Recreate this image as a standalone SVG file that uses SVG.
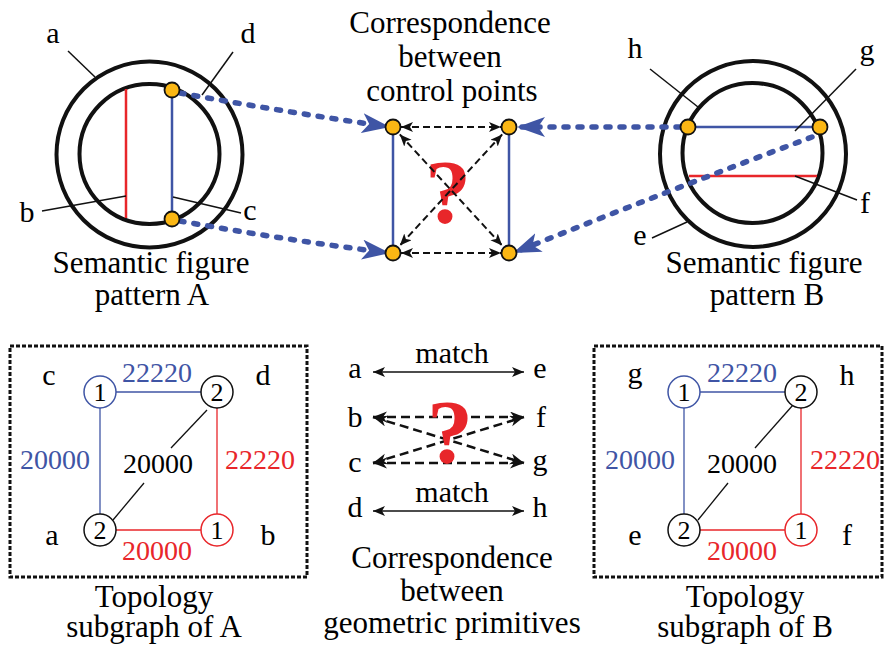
<svg xmlns="http://www.w3.org/2000/svg" width="886" height="651" viewBox="0 0 886 651" font-family="Liberation Serif">
<defs>
<marker id="bArr" markerUnits="userSpaceOnUse" markerWidth="32" markerHeight="22" refX="28" refY="10" orient="auto">
<path d="M0,0 L28,10 L0,20 L7,10 z" fill="#3f55a5"/>
</marker>
<marker id="kArr" markerUnits="userSpaceOnUse" markerWidth="14" markerHeight="12" refX="12" refY="5" orient="auto-start-reverse">
<path d="M0,0 L12,5 L0,10 L3,5 z" fill="#111"/>
</marker>
<marker id="kArr2" markerUnits="userSpaceOnUse" markerWidth="16" markerHeight="12" refX="14" refY="5.5" orient="auto-start-reverse">
<path d="M0,0 L14,5.5 L0,11 L4,5.5 z" fill="#111"/>
</marker>
</defs>

<!-- Pattern A -->
<g id="patternA">
<g fill="none" stroke="#111" stroke-width="4">
<circle cx="149.5" cy="154.5" r="93"/>
<circle cx="149.5" cy="154" r="70"/>
</g>
<line x1="126" y1="89" x2="126" y2="218" stroke="#e8262a" stroke-width="2.5"/>
<line x1="172" y1="90" x2="172" y2="219" stroke="#3f55a5" stroke-width="2.5"/>
<g stroke="#111" stroke-width="1.5">
<line x1="68" y1="51" x2="95" y2="77"/>
<line x1="233" y1="52" x2="202" y2="95"/>
<line x1="42" y1="211" x2="126" y2="196"/>
<line x1="241" y1="213" x2="173" y2="197"/>
</g>
<text style="font-family:Liberation Serif" font-size="30" text-anchor="middle" x="53" y="43">a</text>
<text style="font-family:Liberation Serif" font-size="30" text-anchor="middle" x="248" y="43">d</text>
<text style="font-family:Liberation Serif" font-size="30" text-anchor="middle" x="27" y="222">b</text>
<text style="font-family:Liberation Serif" font-size="30" text-anchor="middle" x="250" y="220">c</text>
<text style="font-family:Liberation Serif" font-size="31" text-anchor="middle" x="151" y="273">Semantic figure</text>
<text style="font-family:Liberation Serif" font-size="31" text-anchor="middle" x="152" y="305">pattern  A</text>
</g>

<!-- Pattern B -->
<g id="patternB">
<g fill="none" stroke="#111" stroke-width="4">
<circle cx="753" cy="154" r="93"/>
<circle cx="752.5" cy="153" r="70"/>
</g>
<line x1="688" y1="127" x2="820" y2="127" stroke="#3f55a5" stroke-width="2.5"/>
<line x1="689" y1="176" x2="817" y2="176" stroke="#e8262a" stroke-width="2.5"/>
<g stroke="#111" stroke-width="1.5">
<line x1="650" y1="69" x2="698" y2="107"/>
<line x1="856" y1="69" x2="795" y2="131"/>
<line x1="795" y1="176" x2="857" y2="200"/>
<line x1="652" y1="238" x2="687" y2="222"/>
</g>
<text style="font-family:Liberation Serif" font-size="30" text-anchor="middle" x="635" y="58">h</text>
<text style="font-family:Liberation Serif" font-size="30" text-anchor="middle" x="867" y="60">g</text>
<text style="font-family:Liberation Serif" font-size="30" text-anchor="middle" x="865" y="213">f</text>
<text style="font-family:Liberation Serif" font-size="30" text-anchor="middle" x="640" y="245">e</text>
<text style="font-family:Liberation Serif" font-size="31" text-anchor="middle" x="764" y="273">Semantic figure</text>
<text style="font-family:Liberation Serif" font-size="31" text-anchor="middle" x="767" y="305">pattern  B</text>
</g>

<!-- Control points -->
<g id="controlPoints">
<text style="font-family:Liberation Serif" font-size="31" text-anchor="middle" x="450" y="33">Correspondence</text>
<text style="font-family:Liberation Serif" font-size="31" text-anchor="middle" x="450" y="67">between</text>
<text style="font-family:Liberation Serif" font-size="31" text-anchor="middle" x="452" y="101">control points</text>
<line x1="393" y1="127" x2="393" y2="253" stroke="#3f55a5" stroke-width="2.5"/>
<line x1="509" y1="127" x2="509" y2="253" stroke="#3f55a5" stroke-width="2.5"/>
<text style="font-family:Liberation Serif" font-size="92" font-weight="bold" text-anchor="middle" fill="#e8262a" x="448" y="223">?</text>
</g>

<!-- Connectors -->
<g id="connectors">
<g fill="none" stroke="#3f55a5" stroke-width="5.5" stroke-linecap="round" stroke-dasharray="4 10" marker-end="url(#bArr)">
<path d="M180,93 Q285,112 390,127"/>
<path d="M180,221 Q285,240 390,253"/>
<path d="M680,127 L517,127"/>
<path d="M812,137 Q670,190 513,253"/>
</g>
<g fill="none" stroke="#111" stroke-width="2" stroke-dasharray="7 4" marker-start="url(#kArr)" marker-end="url(#kArr)">
<line x1="401" y1="127" x2="501" y2="127"/>
<line x1="401" y1="253" x2="501" y2="253"/>
<line x1="399.8" y1="134.4" x2="502.2" y2="245.6"/>
<line x1="502.2" y1="134.4" x2="399.8" y2="245.6"/>
</g>
<g fill="none" stroke="#111" stroke-width="1.5" marker-start="url(#kArr)" marker-end="url(#kArr)">
<line x1="373" y1="372" x2="524" y2="372"/>
<line x1="373" y1="511" x2="524" y2="511"/>
</g>
<g fill="none" stroke="#111" stroke-width="2.5" stroke-dasharray="9 5" marker-start="url(#kArr2)" marker-end="url(#kArr2)">
<line x1="373" y1="417" x2="524" y2="417"/>
<line x1="373" y1="463" x2="524" y2="463"/>
<line x1="373" y1="417" x2="524" y2="463"/>
<line x1="373" y1="463" x2="524" y2="417"/>
</g>
</g>

<!-- control point dots -->
<g id="dots" fill="#fbb714" stroke="#111" stroke-width="1.8">
<circle cx="172" cy="90" r="7.5"/>
<circle cx="172" cy="219" r="7.5"/>
<circle cx="393" cy="127" r="7.5"/>
<circle cx="509" cy="127" r="7.5"/>
<circle cx="393" cy="253" r="7.5"/>
<circle cx="509" cy="253" r="7.5"/>
<circle cx="688" cy="127" r="7.5"/>
<circle cx="820" cy="127" r="7.5"/>
</g>

<!-- Primitive correspondence -->
<g id="primitives">
<text style="font-family:Liberation Serif" font-size="30" text-anchor="middle" x="452" y="363">match</text>
<text style="font-family:Liberation Serif" font-size="30" text-anchor="middle" x="452" y="502">match</text>
<text style="font-family:Liberation Serif" font-size="30" text-anchor="middle" x="355" y="378">a</text>
<text style="font-family:Liberation Serif" font-size="30" text-anchor="middle" x="540" y="378">e</text>
<text style="font-family:Liberation Serif" font-size="30" text-anchor="middle" x="355" y="427">b</text>
<text style="font-family:Liberation Serif" font-size="30" text-anchor="middle" x="541" y="427">f</text>
<text style="font-family:Liberation Serif" font-size="30" text-anchor="middle" x="355" y="472">c</text>
<text style="font-family:Liberation Serif" font-size="30" text-anchor="middle" x="540" y="470">g</text>
<text style="font-family:Liberation Serif" font-size="30" text-anchor="middle" x="355" y="517">d</text>
<text style="font-family:Liberation Serif" font-size="30" text-anchor="middle" x="540" y="517">h</text>
<text style="font-family:Liberation Serif" font-size="92" font-weight="bold" text-anchor="middle" fill="#e8262a" x="450" y="463">?</text>
<text style="font-family:Liberation Serif" font-size="31" text-anchor="middle" x="452" y="568">Correspondence</text>
<text style="font-family:Liberation Serif" font-size="31" text-anchor="middle" x="452" y="601">between</text>
<text style="font-family:Liberation Serif" font-size="31" text-anchor="middle" x="452" y="633">geometric primitives</text>
</g>

<!-- Topology A -->
<g id="topologyA">
<rect x="10" y="346" width="297" height="231" fill="none" stroke="#111" stroke-width="3" stroke-dasharray="4 2"/>
<g stroke-width="1.3" fill="none">
<line stroke="#3f55a5" x1="116" y1="392" x2="201" y2="392"/>
<line stroke="#3f55a5" x1="100" y1="408" x2="100" y2="514"/>
<line stroke="#e8262a" x1="217" y1="408" x2="217" y2="514"/>
<line stroke="#e8262a" x1="116" y1="530" x2="201" y2="530"/>
<line stroke="#111" x1="207" y1="410" x2="171" y2="448"/>
<line stroke="#111" x1="144" y1="483" x2="113" y2="520"/>
</g>
<g fill="#fff" stroke-width="1.5">
<circle stroke="#3f55a5" cx="100" cy="392" r="16"/>
<circle stroke="#111" cx="217" cy="392" r="16"/>
<circle stroke="#111" cx="100" cy="530" r="16"/>
<circle stroke="#e8262a" cx="217" cy="530" r="16"/>
</g>
<text style="font-family:Liberation Serif" font-size="26" text-anchor="middle" x="100" y="401">1</text>
<text style="font-family:Liberation Serif" font-size="26" text-anchor="middle" x="217" y="401">2</text>
<text style="font-family:Liberation Serif" font-size="26" text-anchor="middle" x="100" y="539">2</text>
<text style="font-family:Liberation Serif" font-size="26" text-anchor="middle" x="217" y="539">1</text>
<text style="font-family:Liberation Serif" font-size="30" text-anchor="middle" x="49" y="385">c</text>
<text style="font-family:Liberation Serif" font-size="30" text-anchor="middle" x="263" y="385">d</text>
<text style="font-family:Liberation Serif" font-size="30" text-anchor="middle" x="52" y="545">a</text>
<text style="font-family:Liberation Serif" font-size="30" text-anchor="middle" x="268" y="545">b</text>
<text style="font-family:Liberation Serif" font-size="28" text-anchor="middle" fill="#3f55a5" x="157" y="382">22220</text>
<text style="font-family:Liberation Serif" font-size="28" text-anchor="middle" fill="#3f55a5" x="55" y="469">20000</text>
<text style="font-family:Liberation Serif" font-size="28" text-anchor="middle" x="158" y="473">20000</text>
<text style="font-family:Liberation Serif" font-size="28" text-anchor="middle" fill="#e8262a" x="260" y="469">22220</text>
<text style="font-family:Liberation Serif" font-size="28" text-anchor="middle" fill="#e8262a" x="157" y="560">20000</text>
<text style="font-family:Liberation Serif" font-size="31" text-anchor="middle" x="154" y="607">Topology</text>
<text style="font-family:Liberation Serif" font-size="31" text-anchor="middle" x="154" y="637">subgraph of A</text>
</g>

<!-- Topology B -->
<g id="topologyB">
<rect x="594" y="346" width="288" height="231" fill="none" stroke="#111" stroke-width="3" stroke-dasharray="4 2"/>
<g stroke-width="1.3" fill="none">
<line stroke="#3f55a5" x1="700" y1="392" x2="785" y2="392"/>
<line stroke="#3f55a5" x1="684" y1="408" x2="684" y2="514"/>
<line stroke="#e8262a" x1="801" y1="408" x2="801" y2="514"/>
<line stroke="#e8262a" x1="700" y1="530" x2="785" y2="530"/>
<line stroke="#111" x1="793" y1="405" x2="755" y2="448"/>
<line stroke="#111" x1="728" y1="483" x2="698" y2="520"/>
</g>
<g fill="#fff" stroke-width="1.5">
<circle stroke="#3f55a5" cx="684" cy="392" r="16"/>
<circle stroke="#111" cx="801" cy="392" r="16"/>
<circle stroke="#111" cx="684" cy="530" r="16"/>
<circle stroke="#e8262a" cx="801" cy="530" r="16"/>
</g>
<text style="font-family:Liberation Serif" font-size="26" text-anchor="middle" x="684" y="401">1</text>
<text style="font-family:Liberation Serif" font-size="26" text-anchor="middle" x="801" y="401">2</text>
<text style="font-family:Liberation Serif" font-size="26" text-anchor="middle" x="684" y="539">2</text>
<text style="font-family:Liberation Serif" font-size="26" text-anchor="middle" x="801" y="539">1</text>
<text style="font-family:Liberation Serif" font-size="30" text-anchor="middle" x="635" y="383">g</text>
<text style="font-family:Liberation Serif" font-size="30" text-anchor="middle" x="847" y="385">h</text>
<text style="font-family:Liberation Serif" font-size="30" text-anchor="middle" x="635" y="545">e</text>
<text style="font-family:Liberation Serif" font-size="30" text-anchor="middle" x="847" y="545">f</text>
<text style="font-family:Liberation Serif" font-size="28" text-anchor="middle" fill="#3f55a5" x="742" y="382">22220</text>
<text style="font-family:Liberation Serif" font-size="28" text-anchor="middle" fill="#3f55a5" x="640" y="469">20000</text>
<text style="font-family:Liberation Serif" font-size="28" text-anchor="middle" x="742" y="473">20000</text>
<text style="font-family:Liberation Serif" font-size="28" text-anchor="middle" fill="#e8262a" x="845" y="469">22220</text>
<text style="font-family:Liberation Serif" font-size="28" text-anchor="middle" fill="#e8262a" x="742" y="560">20000</text>
<text style="font-family:Liberation Serif" font-size="31" text-anchor="middle" x="745" y="607">Topology</text>
<text style="font-family:Liberation Serif" font-size="31" text-anchor="middle" x="745" y="637">subgraph of B</text>
</g>
</svg>
